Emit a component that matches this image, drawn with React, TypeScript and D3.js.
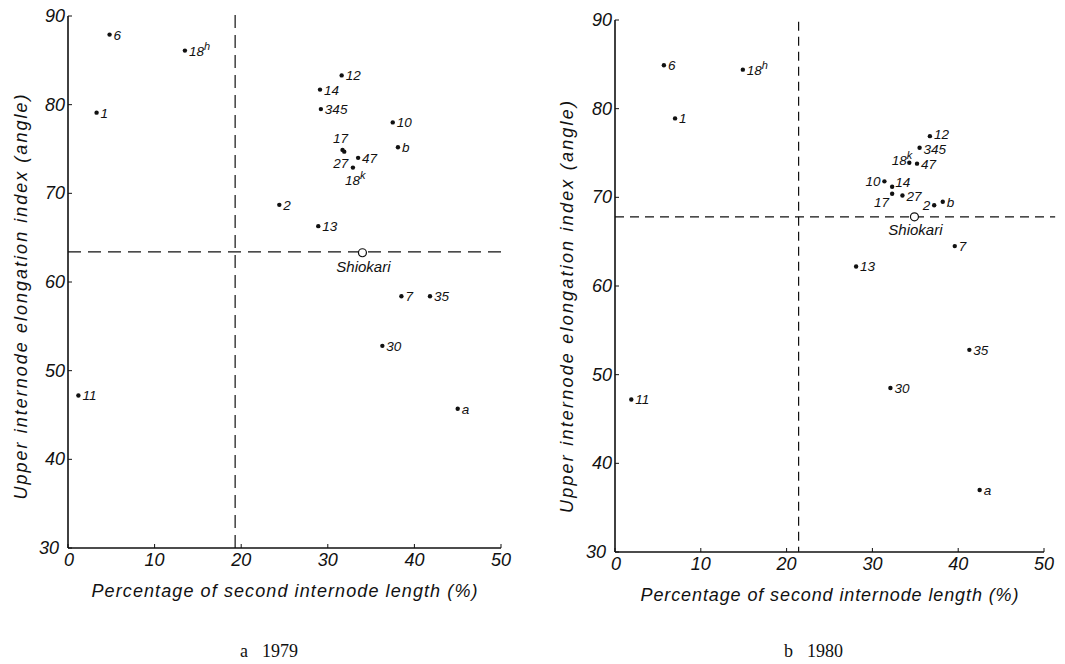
import React from "react";
import * as d3 from "d3";

// ---------- data ----------
const labels1979 = ["6", "18h", "1", "12", "14", "345", "10", "17", "27", "b", "47", "18k", "2", "13", "7", "35", "30", "11", "a"];
const x1979 = [4.8, 13.5, 3.3, 31.6, 29.1, 29.2, 37.5, 31.7, 31.9, 38.1, 33.5, 32.9, 24.4, 28.9, 38.5, 41.8, 36.3, 1.2, 45.0];
const y1979 = [87.9, 86.1, 79.1, 83.3, 81.7, 79.5, 78.0, 74.9, 74.7, 75.2, 74.0, 72.9, 68.7, 66.3, 58.4, 58.4, 52.8, 47.2, 45.7];
const shiokari1979 = [34.0, 63.3];
const cut1979 = [19.3, 63.4];

const labels1980 = ["6", "18h", "1", "12", "345", "18k", "47", "10", "14", "17", "27", "2", "b", "7", "13", "35", "30", "11", "a"];
const x1980 = [5.7, 14.9, 7.0, 36.7, 35.5, 34.3, 35.2, 31.4, 32.3, 32.3, 33.5, 37.2, 38.2, 39.6, 28.1, 41.3, 32.1, 1.9, 42.5];
const y1980 = [84.9, 84.4, 78.9, 76.9, 75.6, 73.9, 73.8, 71.8, 71.2, 70.4, 70.2, 69.1, 69.5, 64.5, 62.2, 52.8, 48.5, 47.2, 37.0];
const shiokari1980 = [34.9, 67.8];
const cut1980 = [21.4, 67.8];

const xTicks = [0, 10, 20, 30, 40, 50];
const yTicks = [30, 40, 50, 60, 70, 80, 90];
const xTitle = "Percentage of second internode length (%)";
const yTitle = "Upper internode elongation index (angle)";
const captions = [["a", "1979"], ["b", "1980"]];

// ---------- label placement (style only) ----------
type Place = { dx: number; dy: number; anchor: "start" | "middle" | "end" };
const place1979: Record<string, Place> = {
  "17": { dx: -2, dy: -7, anchor: "middle" },
  "27": { dx: 4, dy: 16, anchor: "end" },
  "18k": { dx: -8, dy: 17, anchor: "start" },
};
const place1980: Record<string, Place> = {
  "12": { dx: 4, dy: 3, anchor: "start" },
  "345": { dx: 4, dy: 6, anchor: "start" },
  "18k": { dx: 3, dy: 2, anchor: "end" },
  "10": { dx: -4, dy: 5, anchor: "end" },
  "14": { dx: 3, dy: 0, anchor: "start" },
  "17": { dx: -3, dy: 13, anchor: "end" },
  "2": { dx: -4, dy: 5, anchor: "end" },
};

const SANS = "'Liberation Sans', Arial, sans-serif";

function Label({ text, x, y, anchor }: { text: string; x: number; y: number; anchor: string }) {
  const sup = text.length > 1 && /[hk]$/.test(text);
  return (
    <text x={x} y={y} textAnchor={anchor} fontFamily={SANS} fontStyle="italic" fontSize={13.5} fill="#111">
      {sup ? (
        <>
          {text.slice(0, -1)}
          <tspan dy={-6} fontSize={11}>{text.slice(-1)}</tspan>
        </>
      ) : (
        text
      )}
    </text>
  );
}

type PanelProps = {
  labels: string[];
  xs: number[];
  ys: number[];
  shio: number[];
  cut: number[];
  xRange: [number, number];
  yRange: [number, number];
  place: Record<string, Place>;
  yTitleX: number;
  yTitleY: number;
  yTitleLen: number;
  xTitleY: number;
  xTitleLen: number;
  hEnd: number;
  vTop: number;
  dash: string;
  shioDy: number;
  caption: string[];
  capX: number;
};

function Panel(p: PanelProps) {
  const x = d3.scaleLinear().domain([0, 50]).range(p.xRange);
  const y = d3.scaleLinear().domain([30, 90]).range(p.yRange);
  const x0 = x(0), y0 = y(30);
  const xMid = (p.xRange[0] + p.xRange[1]) / 2;
  return (
    <g>
      {/* dashed reference lines */}
      <line x1={x(p.cut[0])} x2={x(p.cut[0])} y1={y(p.vTop)} y2={y0} stroke="#111" strokeWidth={1.2} strokeDasharray={p.dash} />
      <line x1={x0} x2={x(p.hEnd)} y1={y(p.cut[1])} y2={y(p.cut[1])} stroke="#111" strokeWidth={1.2} strokeDasharray={p.dash} />
      {/* axes */}
      <line x1={x0} x2={x0} y1={y(90)} y2={y0} stroke="#111" strokeWidth={1.6} />
      <line x1={x0} x2={x(50)} y1={y0} y2={y0} stroke="#111" strokeWidth={1.6} />
      {yTicks.map((t) => (
        <g key={"y" + t}>
          <line x1={x0} x2={x0 + 4} y1={y(t)} y2={y(t)} stroke="#111" strokeWidth={1} />
          <text
            x={t === 30 ? x0 - 9 : x0 - 3}
            y={y(t) + 6}
            textAnchor="end"
            fontFamily={SANS}
            fontStyle="italic"
            fontSize={18}
            fill="#111"
          >
            {t}
          </text>
        </g>
      ))}
      {xTicks.map((t) => (
        <g key={"x" + t}>
          <line x1={x(t)} x2={x(t)} y1={y0} y2={y0 - 4} stroke="#111" strokeWidth={1} />
          <text x={x(t) + (t === 0 ? 1 : 0)} y={y0 + 18} textAnchor="middle" fontFamily={SANS} fontStyle="italic" fontSize={18} fill="#111">
            {t}
          </text>
        </g>
      ))}
      {/* titles */}
      <text
        x={xMid}
        y={p.xTitleY}
        textAnchor="middle"
        fontFamily={SANS}
        fontStyle="italic"
        fontSize={18}
        fill="#111"
        textLength={p.xTitleLen}
        lengthAdjust="spacing"
      >
        {xTitle}
      </text>
      <text
        transform={`translate(${p.yTitleX},${p.yTitleY}) rotate(-90)`}
        textAnchor="middle"
        fontFamily={SANS}
        fontStyle="italic"
        fontSize={18}
        fill="#111"
        textLength={p.yTitleLen}
        lengthAdjust="spacing"
      >
        {yTitle}
      </text>
      {/* points */}
      {p.labels.map((lab, i) => {
        const cx = x(p.xs[i]);
        const cy = y(p.ys[i]);
        const pl = p.place[lab] || { dx: 4, dy: 5, anchor: "start" };
        return (
          <g key={lab}>
            <circle cx={cx} cy={cy} r={2.2} fill="#111" />
            <Label text={lab} x={cx + pl.dx} y={cy + pl.dy} anchor={pl.anchor} />
          </g>
        );
      })}
      {/* Shiokari */}
      <circle cx={x(p.shio[0])} cy={y(p.shio[1])} r={4} fill="#fff" stroke="#111" strokeWidth={1.2} />
      <text x={x(p.shio[0]) + 1} y={y(p.shio[1]) + p.shioDy} textAnchor="middle" fontFamily={SANS} fontStyle="italic" fontSize={15} fill="#111">
        Shiokari
      </text>
      {/* caption */}
      <text x={p.capX} y={657} fontFamily="'Liberation Serif', 'Times New Roman', serif" fontSize={18} fill="#111">
        {p.caption[0]}
        <tspan dx={14}>{p.caption[1]}</tspan>
      </text>
    </g>
  );
}

export default function App() {
  return (
    <svg
      width={1065}
      height={664}
      style={{ position: "absolute", left: 0, top: 0, background: "#fff" }}
    >
      <rect width={1065} height={664} fill="#fff" />
      <Panel
        labels={labels1979}
        xs={x1979}
        ys={y1979}
        shio={shiokari1979}
        cut={cut1979}
        xRange={[68, 501]}
        yRange={[548, 16]}
        place={place1979}
        yTitleX={27}
        yTitleY={297}
        yTitleLen={405}
        xTitleY={597}
        xTitleLen={386}
        hEnd={50.6}
        vTop={90.1}
        dash="13,7"
        shioDy={19}
        caption={captions[0]}
        capX={240}
      />
      <Panel
        labels={labels1980}
        xs={x1980}
        ys={y1980}
        shio={shiokari1980}
        cut={cut1980}
        xRange={[615, 1044]}
        yRange={[552, 20]}
        place={place1980}
        yTitleX={573}
        yTitleY={307}
        yTitleLen={412}
        xTitleY={601}
        xTitleLen={378}
        hEnd={51.3}
        vTop={89.8}
        dash="9,6"
        shioDy={18}
        caption={captions[1]}
        capX={784}
      />
    </svg>
  );
}
